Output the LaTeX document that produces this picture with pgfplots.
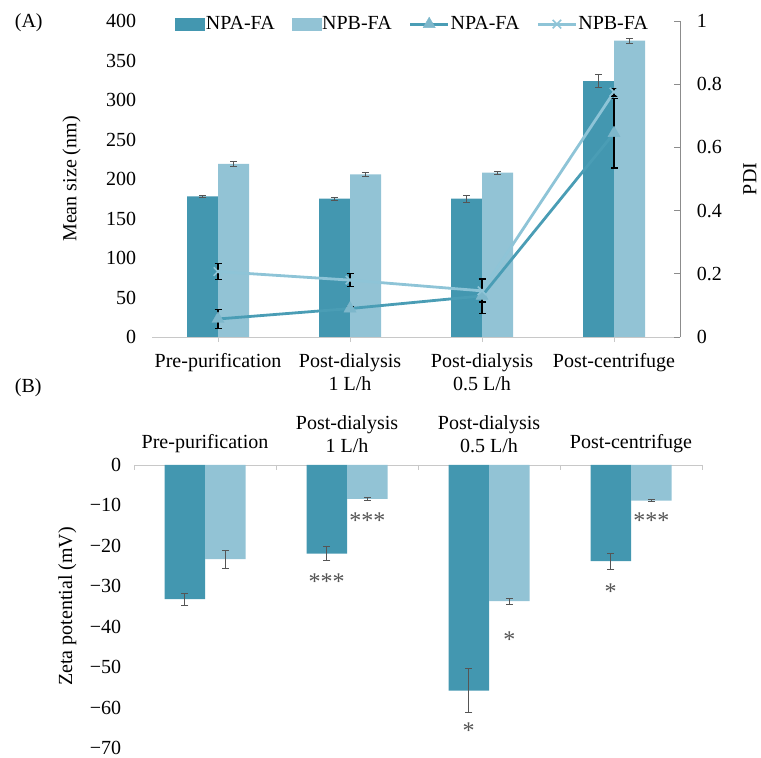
\documentclass[border=0pt]{standalone}
\usepackage{pgfplots}
\pgfplotsset{compat=1.18}
\usepackage{pgfplotstable}
\usepackage{fontspec}
\setmainfont{Liberation Serif}
\definecolor{cdark}{HTML}{4397B0}
\definecolor{clight}{HTML}{92C3D5}
\definecolor{ctriline}{HTML}{4A9DB5}
\definecolor{ctri}{HTML}{7DB7CB}
\definecolor{cxline}{HTML}{8EC4D7}
\definecolor{axgray}{HTML}{C8C8C8}
\definecolor{raxgray}{HTML}{8C8C8C}
\definecolor{errgray}{HTML}{555555}

\pgfplotsset{
  mylegline/.style={legend image code/.code={\draw[mark repeat=2,mark phase=2,##1] plot coordinates {(0pt,0pt)(19pt,0pt)(38pt,0pt)};}},
  barerr/.style={error bars/.cd, y dir=both, y explicit,
     error bar style={draw=errgray, line width=0.7pt},
     error mark options={rotate=90, mark size=3.5pt, draw=errgray, line width=0.7pt}},
  lineerr/.style={error bars/.cd, y dir=both, y explicit,
     error bar style={draw=black, line width=1.3pt},
     error mark options={rotate=90, mark size=3.5pt, draw=black, line width=1.3pt}},
}

\pgfplotstableread{
x y e
0 178 1.5
1 175 1.5
2 175 4
3 324 8
}\sizeA
\pgfplotstableread{
x y e
0 219 3
1 206 2.5
2 208 1.5
3 375 3
}\sizeB
\pgfplotstableread{
x y e
0 0.057 0.03
1 0.090 0.005
2 0.130 0.055
3 0.645 0.11
}\pdiA
\pgfplotstableread{
x y e
0 0.207 0.026
1 0.180 0.020
2 0.146 0.035
3 0.775 0.012
}\pdiB
\pgfplotstableread{
x y e
0 -33.2 1.5
1 -21.9 1.7
2 -55.8 5.4
3 -23.8 2.0
}\zetaA
\pgfplotstableread{
x y e
0 -23.3 2.3
1 -8.4 0.3
2 -33.7 0.7
3 -8.8 0.3
}\zetaB

\begin{document}
\fontsize{20}{23}\selectfont
\begin{tikzpicture}
\useasboundingbox (0pt,0pt) rectangle (761pt,758pt);
\pgfplotsset{
  every axis/.append style={
    font=\fontsize{20}{23}\selectfont,
    /pgf/number format/assume math mode=true,
  },
}
% ---------- (A) bars ----------
\begin{axis}[
  at={(152pt,421pt)}, anchor=south west, scale only axis,
  width=528pt, height=316pt,
  xmin=-0.5, xmax=3.5, ymin=0, ymax=400,
  ybar=0pt, bar width=31pt,
  axis x line*=bottom, axis y line*=left,
  x axis line style={draw=axgray, line width=0.8pt, -},
  y axis line style={draw=none},
  xtick={0,1,2,3},
  xticklabels={Pre-purification, Post-dialysis\\1 L/h, Post-dialysis\\0.5 L/h, Post-centrifuge},
  xticklabel style={align=center, yshift=-5pt},
  x tick style={draw=axgray, line width=0.8pt},
  tick align=outside, major tick length=5pt,
  ytick={0,50,100,150,200,250,300,350,400},
  y tick style={draw=none},
  yticklabel style={xshift=-4pt},
  ylabel={Mean size (nm)},
  ylabel style={yshift=12pt},
  clip=false,
]
\addplot[fill=cdark, draw=none, barerr] table[x=x, y=y, y error=e]{\sizeA};
\addplot[fill=clight, draw=none, barerr] table[x=x, y=y, y error=e]{\sizeB};
\end{axis}
% ---------- (A) PDI lines ----------
\begin{axis}[
  at={(152pt,421pt)}, anchor=south west, scale only axis,
  width=528pt, height=316pt,
  xmin=-0.5, xmax=3.5, ymin=0, ymax=1,
  axis x line=none, axis y line*=right,
  y axis line style={draw=raxgray, line width=0.8pt, -},
  ytick={0,0.2,0.4,0.6,0.8,1}, yticklabels={0,0.2,0.4,0.6,0.8,1},
  y tick style={draw=raxgray, line width=0.8pt},
  tick align=inside, major tick length=6pt,
  yticklabel style={xshift=10pt},
  ylabel={PDI},
  ylabel style={yshift=-8pt},
  clip=false,
  legend style={at={(0.044,0.99)}, anchor=west, draw=none, fill=none,
    legend columns=-1, font=\fontsize{20}{23}\selectfont,
    /tikz/every even column/.append style={column sep=16pt},
    inner sep=0pt, nodes={inner sep=1pt}},
]
\addlegendimage{legend image code/.code={\fill[cdark] (0pt,-6pt) rectangle (29pt,6pt);}}
\addlegendimage{legend image code/.code={\fill[clight] (0pt,-6pt) rectangle (29pt,6pt);}}
\addplot[ctriline, line width=2.8pt, mark=triangle*, mark size=7pt,
  mark options={fill=ctri, draw=ctri, line width=0.4pt},
  mylegline, lineerr] table[x=x, y=y, y error=e]{\pdiA};
\addplot[cxline, line width=2.8pt, mark=x, mark size=6pt,
  mark options={draw=cxline, line width=1.6pt},
  mylegline, lineerr] table[x=x, y=y, y error=e]{\pdiB};
\legend{NPA-FA, NPB-FA, NPA-FA, NPB-FA}
\end{axis}
% ---------- (B) zeta ----------
\begin{axis}[
  at={(134pt,10pt)}, anchor=south west, scale only axis,
  width=568pt, height=283pt,
  xmin=-0.5, xmax=3.5, ymin=-70, ymax=0,
  ybar=0pt, bar width=40.5pt,
  axis x line*=top, axis y line*=left,
  x axis line style={draw=axgray, line width=0.8pt, -},
  y axis line style={draw=none},
  xtick={0,1,2,3},
  xticklabels={Pre-purification, Post-dialysis\\1 L/h, Post-dialysis\\0.5 L/h, Post-centrifuge},
  xticklabel style={align=center, yshift=5pt},
  major x tick style={draw=none},
  minor xtick={-0.5,0.5,1.5,2.5,3.5},
  minor x tick style={draw=axgray, line width=0.8pt},
  tick align=inside, minor tick length=5pt, major tick length=0pt,
  ytick={-70,-60,-50,-40,-30,-20,-10,0},
  yticklabels={−70,−60,−50,−40,−30,−20,−10,0},
  y tick style={draw=none},
  yticklabel style={xshift=-6pt},
  ylabel={Zeta potential (mV)},
  clip=false,
]
\addplot[fill=cdark, draw=none, barerr] table[x=x, y=y, y error=e]{\zetaA};
\addplot[fill=clight, draw=none, barerr] table[x=x, y=y, y error=e]{\zetaB};
\begin{scope}[every node/.style={text=errgray, font=\fontsize{24}{24}\selectfont}]
\node at (axis cs:0.857,-28.8) {***};
\node at (axis cs:1.143,-13.8) {***};
\node at (axis cs:1.857,-65.8) {*};
\node at (axis cs:2.143,-43.3) {*};
\node at (axis cs:2.857,-31.3) {*};
\node at (axis cs:3.143,-13.8) {***};
\end{scope}
\end{axis}
\node[anchor=west] at (8pt,735pt) {(A)};
\node[anchor=west] at (8pt,370pt) {(B)};
\end{tikzpicture}
\end{document}
